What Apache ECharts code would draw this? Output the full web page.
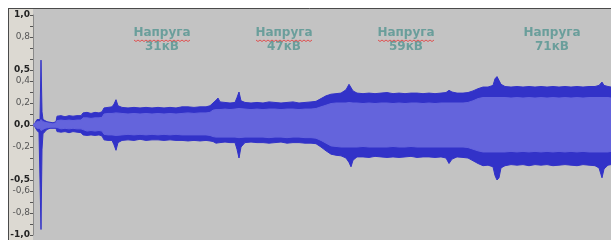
<!DOCTYPE html>
<html>
<head>
<meta charset="utf-8">
<script src="https://cdn.jsdelivr.net/npm/echarts@6/dist/echarts.min.js"></script>
<style>
  html, body { margin: 0; padding: 0; background: #fff; }
  #chart { width: 611px; height: 240px; }
</style>
</head>
<body>
<div id="chart"></div>
<script>
// час (умовні одиниці) і огинаючі сигналу
var time = [
    0, 2, 4, 6, 7, 8, 9, 10, 12, 14, 17, 20, 23,
    24, 28, 32, 36, 40, 44, 48,
    50, 54, 58, 62, 66, 69,
    71, 75, 79, 81, 83, 85, 89, 95, 101, 107, 113, 119, 125, 131, 137, 143, 149, 155, 161, 167, 173,
    177, 180, 183, 185, 187, 192, 197, 202, 204, 206, 208, 212, 218, 224, 230, 236, 242, 248, 254, 260, 266, 272, 278,
    283, 288, 293, 298, 303, 308, 313, 316, 318, 320, 324, 330, 336, 342, 348, 354, 360, 366, 372, 378, 384, 390, 396, 402, 408, 413, 416, 419, 424, 430,
    435, 440, 445, 450, 455, 460, 462, 464, 466, 468, 472, 478, 484, 490, 496, 502, 508, 514, 520, 526, 532, 538, 544, 550, 556, 562, 566, 569, 571, 575, 578
];
var peakHi = [
    0, .02, .05, .06, .05, .59, .12, .05, .05, .03, .025, .02, .03,
    .08, .085, .075, .085, .08, .085, .085,
    .11, .115, .105, .115, .11, .12,
    .155, .16, .165, .19, .23, .175, .16, .155, .16, .155, .16, .155, .16, .155, .16, .155, .165, .165, .16, .165, .165,
    .175, .2, .225, .245, .21, .205, .2, .205, .25, .3, .22, .205, .2, .205, .2, .21, .205, .2, .205, .21, .2, .205, .21,
    .215, .24, .265, .28, .285, .29, .32, .37, .38, .31, .29, .285, .29, .285, .29, .295, .285, .29, .285, .29, .29, .285, .29, .285, .29, .295, .315, .3, .29, .29,
    .295, .31, .33, .345, .345, .36, .42, .44, .43, .37, .35, .345, .35, .345, .35, .345, .35, .345, .35, .345, .35, .345, .35, .345, .35, .35, .36, .39, .36, .35, .345
];
var peakLo = [
    0, -.02, -.05, -.07, -.06, -.95, -.22, -.08, -.06, -.04, -.03, -.03, -.03,
    -.06, -.065, -.06, -.07, -.06, -.065, -.07,
    -.09, -.095, -.09, -.095, -.09, -.1,
    -.135, -.14, -.14, -.18, -.23, -.16, -.14, -.135, -.14, -.13, -.14, -.135, -.135, -.14, -.135, -.14, -.14, -.145, -.14, -.145, -.14,
    -.145, -.15, -.165, -.17, -.16, -.155, -.16, -.16, -.22, -.3, -.2, -.16, -.155, -.16, -.16, -.165, -.16, -.155, -.165, -.16, -.16, -.165, -.165,
    -.17, -.2, -.235, -.265, -.275, -.28, -.3, -.34, -.38, -.32, -.29, -.29, -.295, -.285, -.29, -.295, -.29, -.295, -.29, -.285, -.295, -.29, -.29, -.295, -.29, -.3, -.35, -.31, -.29, -.295,
    -.3, -.325, -.35, -.37, -.365, -.38, -.46, -.5, -.48, -.39, -.37, -.36, -.365, -.36, -.37, -.36, -.365, -.36, -.37, -.365, -.36, -.365, -.37, -.36, -.365, -.37, -.39, -.48, -.4, -.365, -.36
];
var rmsHi = [
    0, .01, .03, .03, .03, .05, .04, .03, .03, .02, .015, .01, .02,
    .04, .045, .04, .045, .04, .045, .045,
    .065, .065, .06, .065, .065, .07,
    .1, .105, .105, .11, .11, .105, .105, .1, .105, .1, .105, .1, .105, .1, .105, .1, .105, .11, .105, .11, .11,
    .115, .135, .14, .14, .14, .145, .14, .145, .145, .15, .145, .145, .14, .145, .14, .145, .145, .14, .145, .145, .14, .145, .145,
    .15, .165, .18, .195, .2, .2, .2, .205, .205, .2, .2, .195, .2, .195, .2, .2, .195, .2, .195, .2, .2, .195, .2, .195, .2, .2, .2, .2, .2, .2,
    .205, .22, .24, .25, .25, .25, .25, .25, .25, .25, .25, .245, .25, .245, .25, .245, .25, .245, .25, .245, .25, .245, .25, .245, .25, .25, .25, .25, .25, .25, .245
];
var rmsLo = [
    0, -.01, -.03, -.04, -.03, -.05, -.05, -.04, -.03, -.02, -.02, -.02, -.02,
    -.035, -.035, -.03, -.035, -.03, -.035, -.035,
    -.05, -.055, -.05, -.055, -.05, -.055,
    -.085, -.09, -.09, -.095, -.095, -.09, -.09, -.085, -.09, -.085, -.09, -.085, -.09, -.085, -.09, -.085, -.09, -.09, -.09, -.09, -.09,
    -.095, -.105, -.11, -.11, -.11, -.11, -.11, -.11, -.115, -.115, -.11, -.11, -.11, -.11, -.11, -.115, -.11, -.11, -.115, -.11, -.11, -.115, -.115,
    -.12, -.14, -.165, -.19, -.195, -.2, -.2, -.2, -.2, -.2, -.2, -.195, -.2, -.2, -.2, -.2, -.195, -.2, -.2, -.195, -.2, -.2, -.2, -.2, -.2, -.2, -.2, -.2, -.2, -.2,
    -.205, -.22, -.235, -.245, -.245, -.245, -.245, -.245, -.245, -.245, -.245, -.24, -.245, -.24, -.245, -.24, -.245, -.24, -.245, -.24, -.245, -.24, -.245, -.24, -.245, -.245, -.245, -.245, -.245, -.245, -.24
];

// підписи шкали амплітуди
var yTickLabels = [1, 0.8, 0.5, 0.4, 0.2, 0, -0.2, -0.5, -0.6, -0.8, -1];
var yBoldLabels = [1, 0.5, 0, -0.5, -1];

// написи над ділянками
var noteTitles = ['Напруга', 'Напруга', 'Напруга', 'Напруга'];
var noteValues = ['31кВ', '47кВ', '59кВ', '71кВ'];
var noteSpell  = [true, true, true, false];

var darkBlue = '#3232c8';
var lightBlue = '#6464dc';

var myChart = echarts.init(document.getElementById('chart'));

function pairs(ys) {
    var out = [];
    for (var i = 0; i < time.length; i++) out.push([time[i], ys[i]]);
    return out;
}

function waveSeries(name, ys, color, z) {
    return {
        name: name,
        type: 'line',
        data: pairs(ys),
        symbol: 'none',
        z: z,
        lineStyle: { width: 1, color: color },
        areaStyle: { color: color, opacity: 1 },
        silent: true
    };
}

// позиції написів (центр, px)
var noteX = [162, 284, 406, 552];
var graphics = [
    { type: 'rect', z: -10, shape: { x: 8, y: 8, width: 25, height: 232 }, style: { fill: '#dcd9d2' } },
    { type: 'rect', z: -10, shape: { x: 33, y: 8, width: 578, height: 232 }, style: { fill: '#c3c3c3' } },
    { type: 'line', z: 5, shape: { x1: 8, y1: 8.5, x2: 611, y2: 8.5 }, style: { stroke: '#4a4a4a', lineWidth: 1 } },
    { type: 'line', z: 5, shape: { x1: 8.5, y1: 8, x2: 8.5, y2: 240 }, style: { stroke: '#4a4a4a', lineWidth: 1 } }
];
for (var k = 0; k < noteX.length; k++) {
    graphics.push({
        type: 'text', z: 20,
        style: { text: noteTitles[k], x: noteX[k], y: 33, align: 'center', verticalAlign: 'middle',
                 font: 'bold 12px "DejaVu Sans"', fill: '#6a9e9b' }
    });
    graphics.push({
        type: 'text', z: 20,
        style: { text: noteValues[k], x: noteX[k], y: 47, align: 'center', verticalAlign: 'middle',
                 font: 'bold 12px "DejaVu Sans"', fill: '#6a9e9b' }
    });
    if (noteSpell[k]) {
        // хвиляста лінія перевірки орфографії
        var pts = [];
        for (var p = 0; p <= 28; p++) pts.push([noteX[k] - 28 + p * 2, 40.5 + (p % 2 ? 1 : -0.5)]);
        graphics.push({ type: 'polyline', z: 20, shape: { points: pts }, style: { stroke: '#e05050', lineWidth: 1, fill: null } });
    }
}

var option = {
    animation: false,
    grid: { left: 33, right: 0, top: 15, bottom: 5 },
    xAxis: { type: 'value', min: 0, max: 578, show: false },
    yAxis: {
        type: 'value',
        min: -1,
        max: 1,
        interval: 0.1,
        axisLine: { show: true, lineStyle: { color: '#8a8a8a' } },
        axisTick: { show: true, length: 3, lineStyle: { color: '#555' } },
        splitLine: { show: false },
        axisLabel: {
            margin: 3,
            formatter: function (v) {
                var r = Math.round(v * 10) / 10;
                if (yTickLabels.indexOf(r) < 0) return '';
                var s = r.toFixed(1).replace('.', ',');
                return yBoldLabels.indexOf(r) >= 0 ? '{b|' + s + '}' : '{n|' + s + '}';
            },
            rich: {
                b: { fontFamily: 'DejaVu Sans', fontSize: 9, fontWeight: 'bold', color: '#222' },
                n: { fontFamily: 'DejaVu Sans', fontSize: 9, color: '#555' }
            }
        }
    },
    graphic: graphics,
    series: [
        waveSeries('peakHi', peakHi, darkBlue, 2),
        waveSeries('peakLo', peakLo, darkBlue, 2),
        waveSeries('rmsHi', rmsHi, lightBlue, 3),
        waveSeries('rmsLo', rmsLo, lightBlue, 3)
    ]
};

myChart.setOption(option, true);
</script>
</body>
</html>
